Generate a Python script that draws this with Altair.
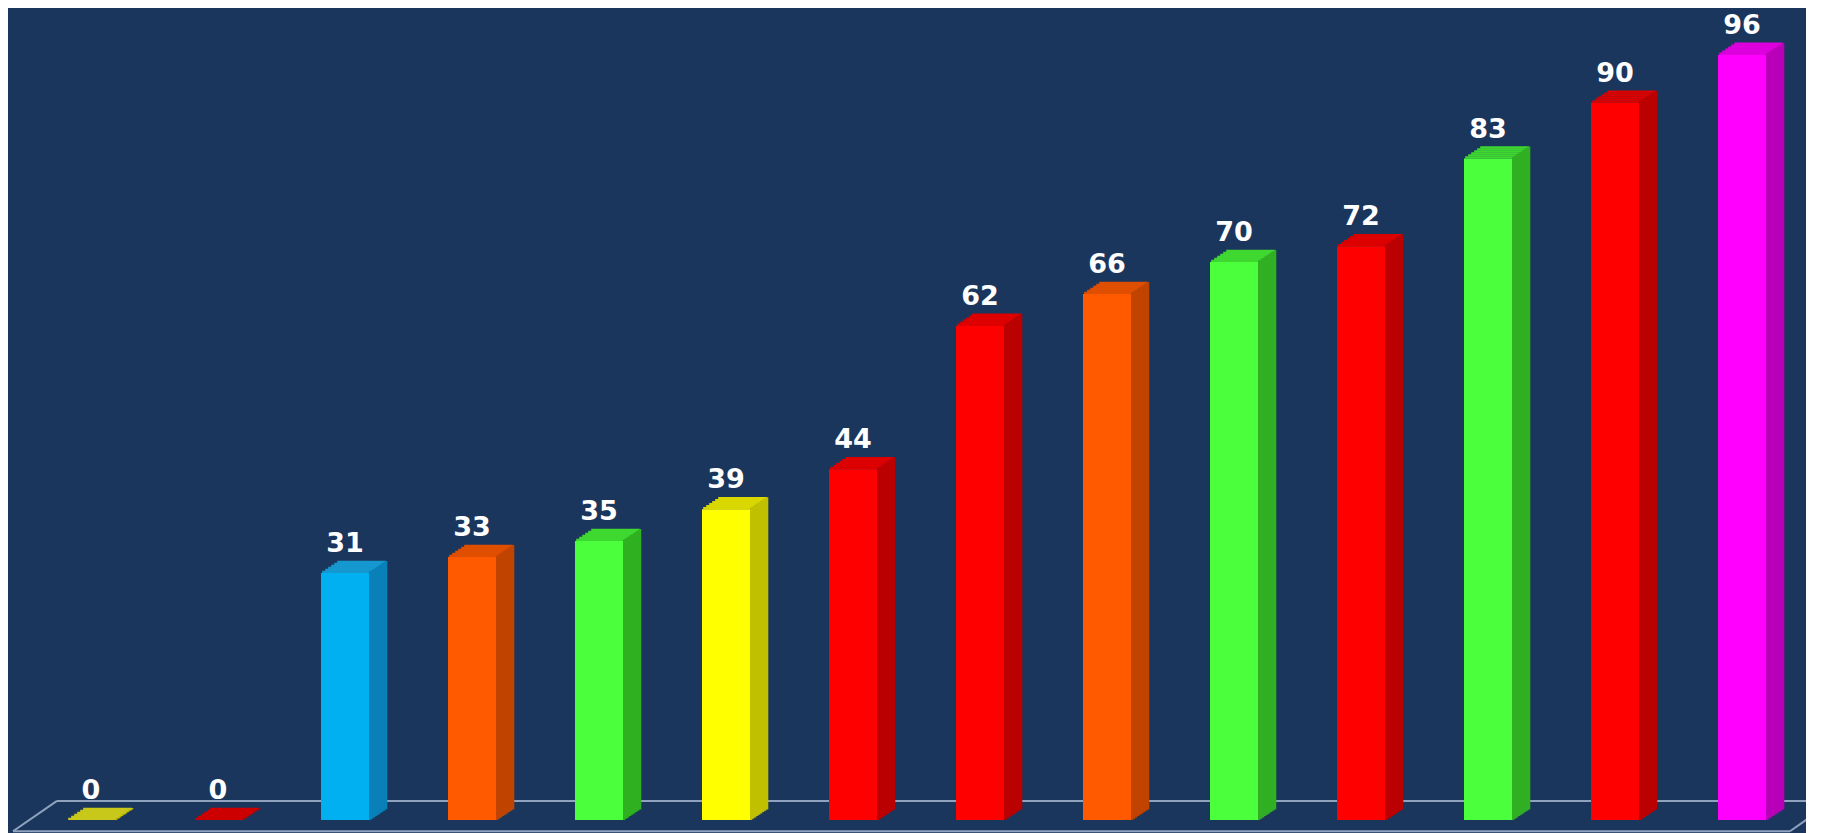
import altair as alt
import pandas as pd

# ---- data ----
categories = [f"c{i:02d}" for i in range(14)]
values = [0, 0, 31, 33, 35, 39, 44, 62, 66, 70, 72, 83, 90, 96]
face_colors = ["#ffff00", "#ff0000", "#00b0f0", "#ff5a00", "#4cff3c", "#ffff00", "#ff0000",
               "#ff0000", "#ff5a00", "#4cff3c", "#ff0000", "#4cff3c", "#ff0000", "#ff00ff"]
side_colors = ["#c0c000", "#bb0000", "#0a80b8", "#c04400", "#30b022", "#c0c000", "#bb0000",
               "#bb0000", "#c04400", "#30b022", "#bb0000", "#30b022", "#bb0000", "#b800b8"]
cap_colors = ["#c8c81a", "#cc0000", "#1598d0", "#e04e00", "#3ed830", "#d8d800", "#dd0000",
              "#dd0000", "#e04e00", "#3ed830", "#dd0000", "#3ed830", "#dd0000", "#dd00dd"]

df = pd.DataFrame({
    "cat": categories,
    "value": values,
    "base": [0] * len(values),
    "face": face_colors,
    "side": side_colors,
    "cap": cap_colors,
})

# floor plane (decoration): back and front edge levels in value units
floor_back_level = [2.4]
floor_front_level = [-1.4]
floor_df = pd.DataFrame({"back": floor_back_level, "front": floor_front_level})

BG = "#1b365d"
FACE_W = 48
DX = 18
DY = 12
STEP = 127

xenc = alt.X("cat:N", sort=categories, axis=None,
             scale=alt.Scale(paddingInner=0, paddingOuter=0))
yscale = alt.Scale(domain=[-2, 100], nice=False, zero=False)

base = alt.Chart(df)
layers = []

# top cap (parallelogram approximated by horizontal slices)
n_cap = 6
for j in range(n_cap):
    s0 = DY * j / n_cap
    s1 = DY * (j + 1) / n_cap
    xo = DX * ((s0 + s1) / 2) / DY
    layers.append(
        base.mark_bar(width=FACE_W + 0.6, xOffset=xo, yOffset=-s1 - 0.3, y2Offset=-s0, strokeWidth=0)
        .encode(x=xenc,
                y=alt.Y("value:Q", scale=yscale, axis=None),
                y2="value:Q",
                color=alt.Color("cap:N", scale=None))
    )

# side face (parallelogram approximated by vertical slices)
n_side = 9
for k in range(n_side):
    t0 = DX * k / n_side
    t1 = DX * (k + 1) / n_side
    layers.append(
        base.mark_bar(width=(t1 - t0) + 0.6, xOffset=FACE_W / 2 + (t0 + t1) / 2,
                      yOffset=-DY * t1 / DX, y2Offset=-DY * t0 / DX, strokeWidth=0)
        .encode(x=xenc,
                y=alt.Y("value:Q", scale=yscale, axis=None),
                y2="base:Q",
                color=alt.Color("side:N", scale=None))
    )

# front face
layers.append(
    base.mark_bar(width=FACE_W, strokeWidth=0)
    .encode(x=xenc,
            y=alt.Y("value:Q", scale=yscale, axis=None),
            y2="base:Q",
            color=alt.Color("face:N", scale=None))
)

# value labels
layers.append(
    base.mark_text(dy=-21, baseline="alphabetic", align="center", fontSize=27,
                   fontWeight="bold", font="DejaVu Sans", color="#ffffff")
    .encode(x=xenc,
            y=alt.Y("value:Q", scale=yscale, axis=None),
            text="value:Q")
)

# floor outline (decoration)
floor_color = "#8fa3bf"
fbase = alt.Chart(floor_df)
floor_back = fbase.mark_rule(color=floor_color, strokeWidth=2).encode(
    x=alt.value(29.5), x2=alt.value(1805.5),
    y=alt.Y("back:Q", scale=yscale, axis=None))
floor_front = fbase.mark_rule(color=floor_color, strokeWidth=2).encode(
    x=alt.value(-14.5), x2=alt.value(1762.5),
    y=alt.Y("front:Q", scale=yscale, axis=None))
floor_left = fbase.mark_rule(color=floor_color, strokeWidth=2).encode(
    x=alt.value(-14.5), x2=alt.value(29.5),
    y=alt.Y("front:Q", scale=yscale, axis=None), y2="back:Q")
floor_right = fbase.mark_rule(color=floor_color, strokeWidth=2).encode(
    x=alt.value(1762.5), x2=alt.value(1805.5),
    y=alt.Y("front:Q", scale=yscale, axis=None), y2="back:Q")

chart = alt.layer(floor_back, floor_front, floor_left, floor_right, *layers).properties(
    width=STEP * len(categories),
    height=813,
    background=BG,
    padding={"left": 19.5, "top": 15, "right": 0, "bottom": 0},
    autosize=alt.AutoSizeParams(type="none"),
).configure_view(stroke=None, fill=BG)

chart.save("out.html", embed_options={"renderer": "svg", "actions": False})
